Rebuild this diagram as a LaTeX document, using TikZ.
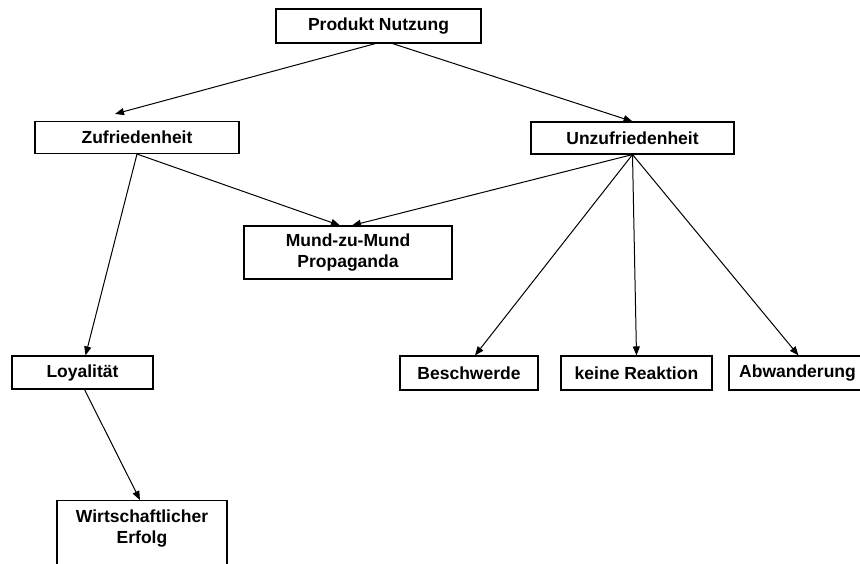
\documentclass[tikz,border=0pt]{standalone}
\usepackage{fontspec}
\setmainfont{Liberation Sans}
\usetikzlibrary{arrows.meta,calc}

\tikzset{
  box/.style={draw=black, line width=1.1pt, rectangle, inner sep=0pt,
    align=center, font=\bfseries\fontsize{17.5}{21}\selectfont},
  boxlabel/.style={inner sep=0pt, align=center,
    font=\bfseries\fontsize{17.5}{21}\selectfont},
  conn/.style={draw=black, line width=1pt,
    -{Triangle[length=9pt,width=7pt]}}
}

\begin{document}
\begin{tikzpicture}[x=1pt,y=-1pt]
  \useasboundingbox (0,0) rectangle (860,563);
  \fill[white] (0,0) rectangle (860,563);
  \clip (0,0) rectangle (860,563);

  % top level
  \node[box, minimum width=205pt, minimum height=34pt] (prod) at (378.5,26) {Produkt Nutzung};

  % second level
  \node[box, minimum width=204pt, minimum height=32pt] (zuf) at (137,137.5) {Zufriedenheit};
  \node[box, minimum width=203pt, minimum height=32pt] (unz) at (632.5,138) {Unzufriedenheit};

  % shared outcome
  \node[box, minimum width=208pt, minimum height=53pt] (mund) at (348,252.5) {Mund-zu-Mund\\Propaganda};

  % reactions
  \node[box, minimum width=141pt, minimum height=33pt] (loy) at (82.5,372.5) {Loyalität};
  \node[box, minimum width=138pt, minimum height=34pt] (besch) at (469,373) {Beschwerde};
  \node[box, minimum width=151pt, minimum height=34pt] (keine) at (636.5,373) {keine Reaktion};
  \node[box, minimum width=137pt, minimum height=34pt] (abw) at (797.5,373) {Abwanderung};

  % bottom box runs past the lower edge
  \node[box, minimum width=170pt, minimum height=90pt, anchor=north] (wbox) at (142,500) {};
  \node[boxlabel] (wtext) at (142,529) {Wirtschaftlicher\\Erfolg};

  % connectors
  \draw[conn] ($(prod.south)+(-3,0)$) -- ($(zuf.north)+(-22,-7)$);
  \draw[conn] ($(prod.south)+(14,0)$) -- (unz.north);
  \draw[conn] (zuf.south) -- ($(loy.north)+(3,0)$);
  \draw[conn] (zuf.south) -- ($(mund.north)+(-8,0)$);
  \draw[conn] (unz.south) -- ($(mund.north)+(4,0)$);
  \draw[conn] (unz.south) -- ($(besch.north)+(6,0)$);
  \draw[conn] (unz.south) -- (keine.north);
  \draw[conn] (unz.south) -- ($(abw.north)+(1,0)$);
  \draw[conn] ($(loy.south)+(2,0)$) -- ($(wbox.north)+(-2,0)$);
\end{tikzpicture}
\end{document}
